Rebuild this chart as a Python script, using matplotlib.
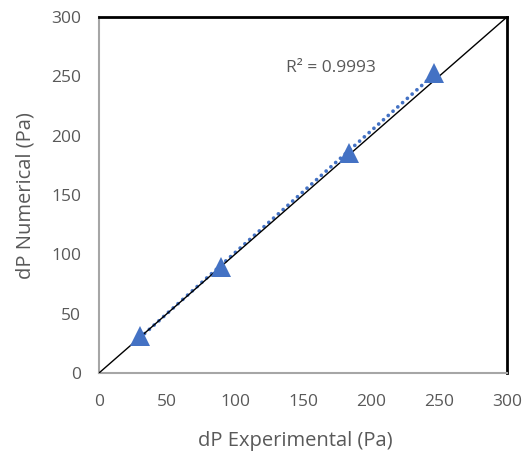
import numpy as np
import matplotlib
matplotlib.use("Agg")
import matplotlib.pyplot as plt

# measured pressure drop vs simulated pressure drop
dp_experimental = [30, 89.5, 184, 246]
dp_numerical = [31, 89.5, 185.5, 253]
r_squared_label = "R² = 0.9993"
axis_ticks = [0, 50, 100, 150, 200, 250, 300]

blue = "#4472C4"
grey_text = "#595959"

plt.rcParams['font.family'] = ['Open Sans', 'DejaVu Sans']

fig = plt.figure(figsize=(5.31, 4.57), dpi=100)
ax = fig.add_axes([99/531, 1 - 373/457, 408/531, 356/457])

# linear trendline through the points (Excel style dotted)
slope, intercept = np.polyfit(dp_experimental, dp_numerical, 1)
xs = np.array([min(dp_experimental), max(dp_experimental)])
ax.plot(xs, slope*xs + intercept, color=blue, lw=2.7,
        linestyle=(0, (0.01, 1.7)), dash_capstyle='round', zorder=2)

# y = x reference line
ax.plot([0, 300], [0, 300], color='black', lw=1.0, zorder=3)

ax.plot(dp_experimental, dp_numerical, linestyle='none', marker='^',
        markersize=14.5, color=blue, markeredgewidth=0, zorder=4)

ax.text(137.5, 257, r_squared_label, color=grey_text, fontsize=12.5, va='center', ha='left')

ax.set_xlim(0, 300)
ax.set_ylim(0, 300)
ax.set_xticks(axis_ticks)
ax.set_yticks(axis_ticks)
ax.tick_params(length=0, labelsize=12.5, labelcolor=grey_text)
ax.tick_params(axis='x', pad=15)
ax.tick_params(axis='y', pad=13)

for side in ('left', 'bottom'):
    ax.spines[side].set_color('#a6a6a6')
    ax.spines[side].set_linewidth(1.5)
for side in ('top', 'right'):
    ax.spines[side].set_color('black')
    ax.spines[side].set_linewidth(2.0)

fig.text(295/531, 1 - 441/457, "dP Experimental (Pa)", fontsize=14.5,
         color=grey_text, ha='center', va='center')
fig.text(26/531, 1 - 196/457, "dP Numerical (Pa)", fontsize=14.5,
         color=grey_text, ha='center', va='center', rotation=90)

fig.savefig("out.png", dpi=100)
